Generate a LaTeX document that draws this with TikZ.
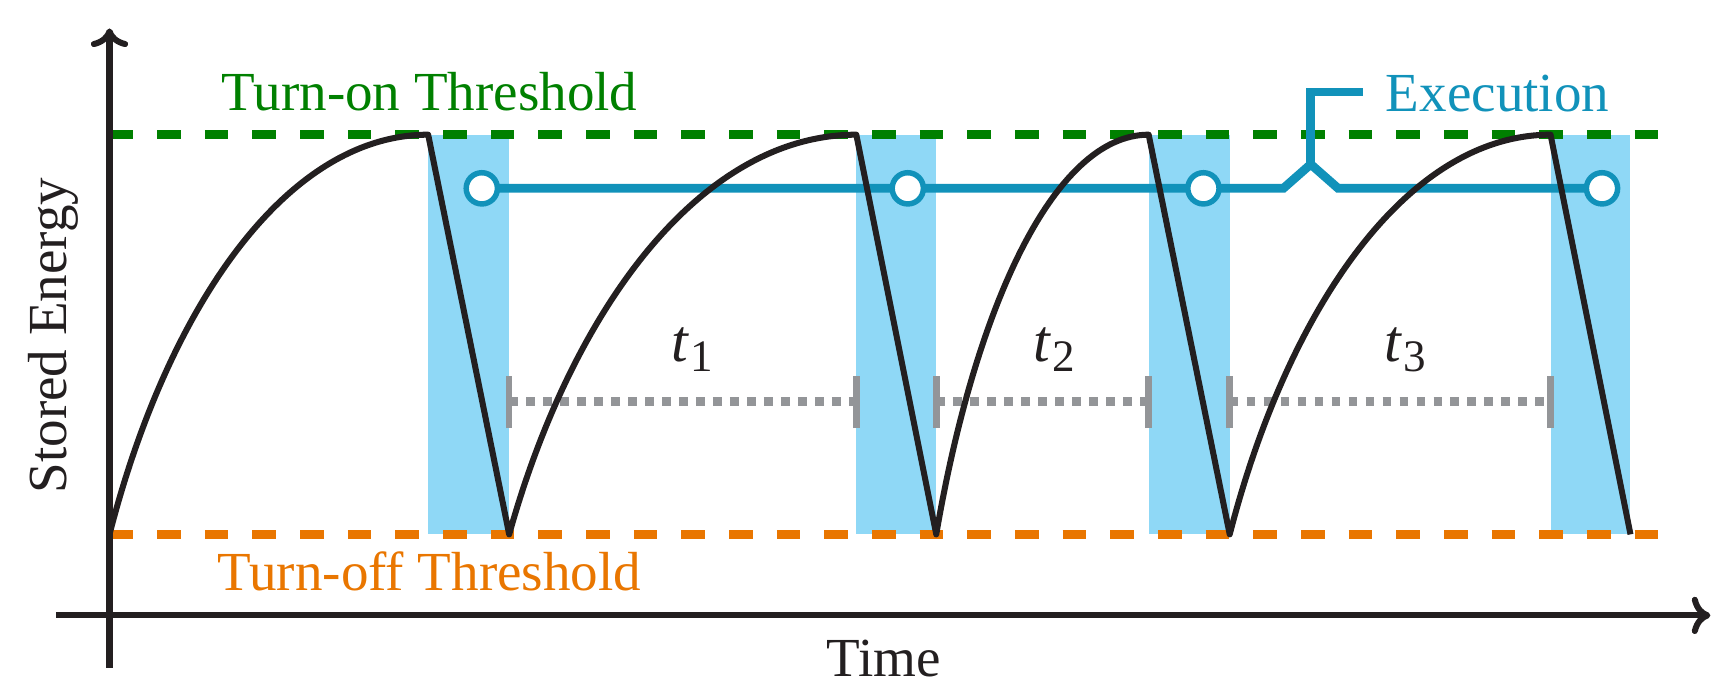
\documentclass[tikz,border=0pt]{standalone}
\usepackage{fontspec}
\setmainfont{Liberation Serif}
\usetikzlibrary{arrows.meta}
\definecolor{cgreen}{RGB}{0,128,0}
\definecolor{corange}{RGB}{233,118,0}
\definecolor{cblue}{RGB}{17,146,186}
\definecolor{cband}{RGB}{143,216,246}
\definecolor{cgray}{RGB}{147,149,152}
\definecolor{cblack}{RGB}{35,31,32}
\begin{document}
\begin{tikzpicture}[x=0.01cm,y=-0.01cm,
  axisline/.style={draw=cblack,line width=0.055cm,-{Computer Modern Rightarrow[length=0.17cm,width=0.34cm]}},
  curve/.style={draw=cblack,line width=0.055cm,line join=round},
  onthr/.style={draw=cgreen,line width=0.078cm,dash pattern=on 0.215cm off 0.22cm},
  offthr/.style={draw=corange,line width=0.078cm,dash pattern=on 0.215cm off 0.22cm},
  band/.style={fill=cband},
  interval/.style={draw=cgray,line width=0.08cm,dash pattern=on 0.08cm off 0.075cm},
  tickbar/.style={draw=cgray,line width=0.06cm},
  execline/.style={draw=cblue,line width=0.08cm,line join=miter},
  execdot/.style={circle,draw=cblue,fill=white,line width=0.05cm,minimum size=0.285cm,inner sep=0pt},
  lab/.style={inner sep=0pt,font=\fontsize{14.3}{17}\selectfont},
  tlab/.style={inner sep=0pt,anchor=base,font=\fontsize{15.6}{18}\selectfont\itshape}
]
\useasboundingbox (0,0) rectangle (1568,625);

% axes
\coordinate (ybot) at (100,610);
\coordinate (ytop) at (100,26);
\coordinate (xleft) at (51,562);
\coordinate (xright) at (1562,562);

% peaks and bottoms
\coordinate (b0) at (100,488);
\coordinate (p1) at (391,123);
\coordinate (b1) at (465,488);
\coordinate (p2) at (782,123);
\coordinate (b2) at (855,488);
\coordinate (p3) at (1049,123);
\coordinate (b3) at (1123,488);
\coordinate (p4) at (1416,123);
\coordinate (b4) at (1489,488);

% execution bands
\fill[band] (p1) rectangle (b1);
\fill[band] (p2) rectangle (b2);
\fill[band] (p3) rectangle (b3);
\fill[band] (p4) rectangle (b4);

% thresholds
\coordinate (onL) at (100,123);
\coordinate (onR) at (1514,123);
\coordinate (offL) at (100,488);
\coordinate (offR) at (1514,488);
\draw[onthr] (onL) -- (onR);
\draw[offthr] (offL) -- (offR);

% axes
\draw[axisline] (ybot) -- (ytop);
\draw[axisline] (xleft) -- (xright);

% intervals
\coordinate (i1a) at (465,367);
\coordinate (i1b) at (782,367);
\coordinate (i2a) at (855,367);
\coordinate (i2b) at (1049,367);
\coordinate (i3a) at (1123,367);
\coordinate (i3b) at (1416,367);
\draw[interval] (i1a) -- (i1b);
\draw[interval] (i2a) -- (i2b);
\draw[interval] (i3a) -- (i3b);
\foreach \c in {i1a,i1b,i2a,i2b,i3a,i3b}{
  \draw[tickbar] ([yshift=-0.24cm]\c) -- ([yshift=0.24cm]\c);
}

% execution line
\coordinate (e1) at (440,172);
\coordinate (e2) at (829,172);
\coordinate (e3) at (1099,172);
\coordinate (e4) at (1463,172);
\coordinate (bumpL) at (1172,172);
\coordinate (apex) at (1197,150);
\coordinate (bumpR) at (1222,172);
\coordinate (stemtop) at (1197,84);
\coordinate (stemend) at (1245,84);
\draw[execline] (e1) -- (bumpL) -- (apex) -- (bumpR) -- (e4);
\draw[execline] (apex) -- (stemtop) -- (stemend);

% stored energy curve
\draw[curve] (b0) .. controls (152.4,283.6) and (260.1,123) .. (p1) -- (b1)
  .. controls (522.1,283.6) and (639.4,123) .. (p2) -- (b2)
  .. controls (889.9,283.6) and (961.7,123) .. (p3) -- (b3)
  .. controls (1175.7,283.6) and (1284.2,123) .. (p4) -- (b4);

% execution dots
\node[execdot] (c1) at (e1) {};
\node[execdot] (c2) at (e2) {};
\node[execdot] (c3) at (e3) {};
\node[execdot] (c4) at (e4) {};

% labels
\node[lab,anchor=base west,text=cgreen] (lon) at (202,101) {Turn-on Threshold};
\node[lab,anchor=base west,text=corange] (loff) at (198,539) {Turn-off Threshold};
\node[lab,anchor=base west,text=cblue] (lexec) at (1265,102) {Execution};
\node[lab,anchor=base west,text=cblack] (ltime) at (754,618) {Time};
\node[lab,anchor=base,rotate=90,text=cblack] (lstored) at (61,306.5) {Stored Energy};

\node[tlab,text=cblack] (t1) at (632,330) {t\kern0.02cm\raisebox{-0.09cm}{\upshape\fontsize{11.7}{12}\selectfont 1}};
\node[tlab,text=cblack] (t2) at (963,330) {t\kern0.02cm\raisebox{-0.09cm}{\upshape\fontsize{11.7}{12}\selectfont 2}};
\node[tlab,text=cblack] (t3) at (1283,330) {t\kern0.02cm\raisebox{-0.09cm}{\upshape\fontsize{11.7}{12}\selectfont 3}};
\end{tikzpicture}
\end{document}
